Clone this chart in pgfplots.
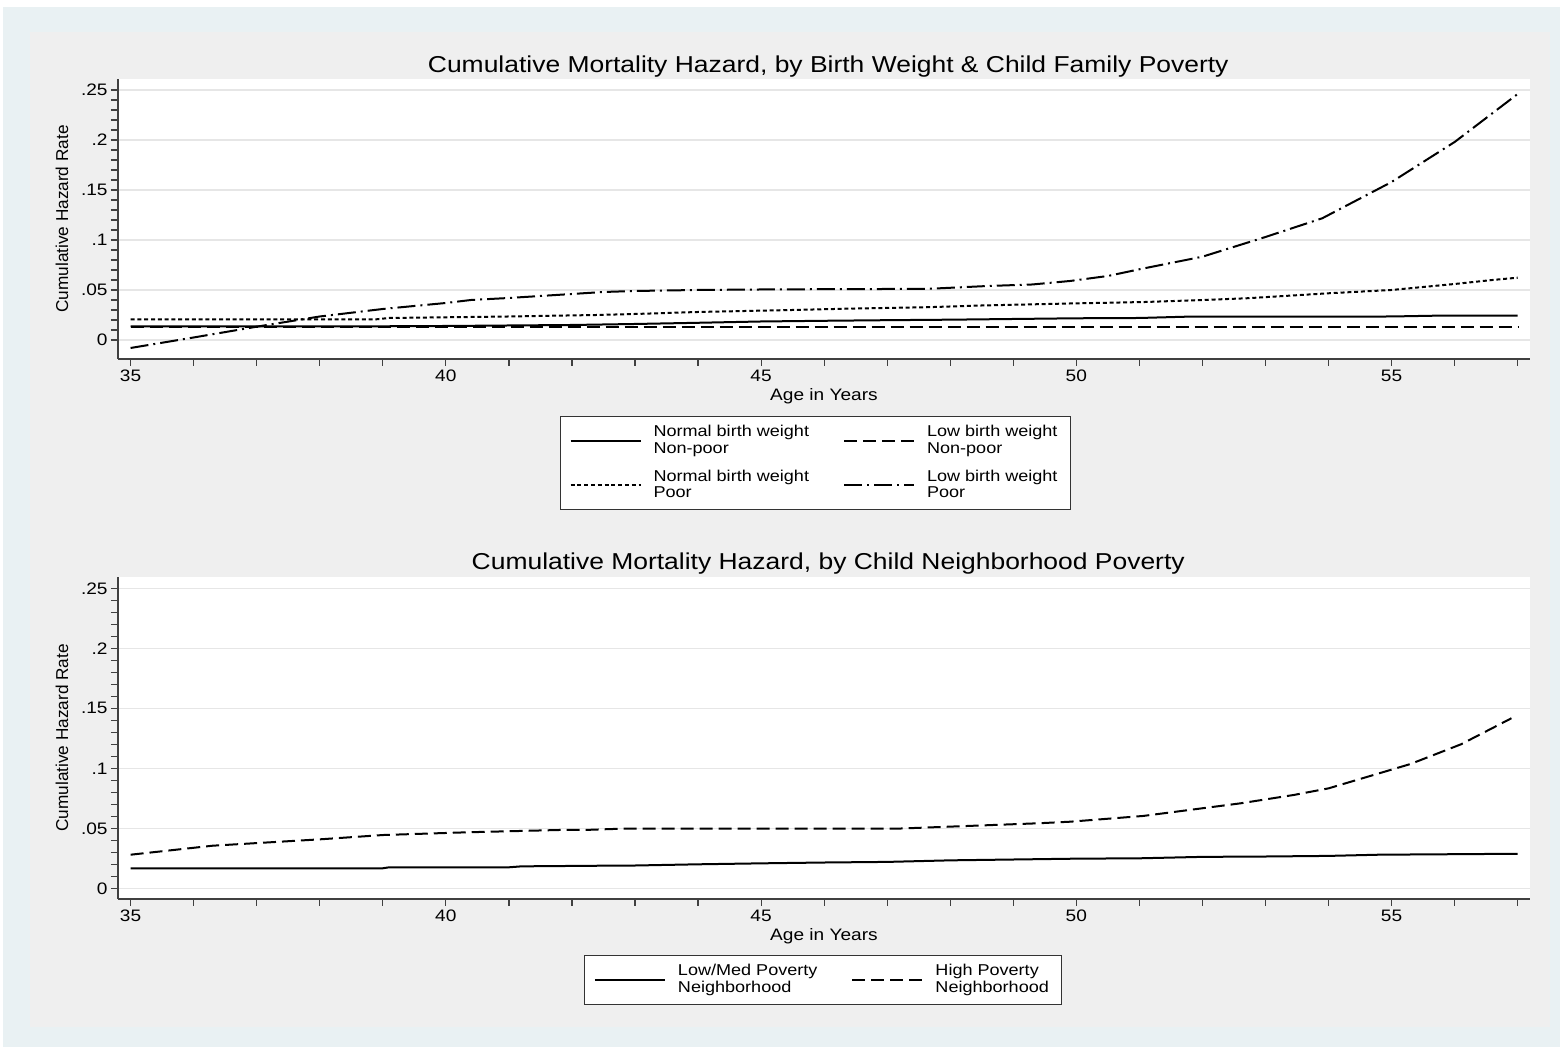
\documentclass[border=0pt]{standalone}
\usepackage{fontspec}
\setmainfont{Liberation Sans}[FakeStretch=1.15]
\newfontfamily\ylabfont{Liberation Sans}
\usepackage{pgfplots}
\pgfplotsset{compat=1.18}
\definecolor{bluishbg}{RGB}{233,241,243}
\definecolor{graybg}{RGB}{239,239,239}
\definecolor{gridc}{RGB}{230,230,230}
\newcommand\tickfont{\fontsize{8.3}{9.8}\selectfont}
\newcommand\titfont{\fontsize{11.5}{13}\selectfont}
\newcommand\legfont{\fontsize{7.85}{8.4}\selectfont}
\newcommand\ylfont{\ylabfont\fontsize{8.6}{10}\selectfont}

\pgfplotsset{
  stata/.style={
    scale only axis, width=706pt,
    xmin=34.8, xmax=57.195,
    axis x line*=bottom, axis y line*=left,
    axis line style={black!75, line width=0.6pt},
    every tick/.style={black!75, line width=0.6pt},
    tick align=outside,
    major tick length=3.5pt, minor tick length=3.5pt,
    xtick={35,40,45,50,55}, xticklabels={35,40,45,50,55},
    minor xtick={36,37,38,39,41,42,43,44,46,47,48,49,51,52,53,54,56,57},
    ytick={0,0.05,0.1,0.15,0.2,0.25}, yticklabels={0,.05,.1,.15,.2,.25},
    minor ytick={0.01,0.02,0.03,0.04,0.06,0.07,0.08,0.09,0.11,0.12,0.13,0.14,0.16,0.17,0.18,0.19,0.21,0.22,0.23,0.24},
    ymajorgrids, grid style={gridc, line width=0.8pt},
    axis background/.style={fill=white},
    /pgf/number format/assume math mode=true,
    ticklabel style={font=\tickfont},
    yticklabel style={inner sep=1.5pt},
    xticklabel style={inner sep=2pt},
    label style={font=\tickfont},
    ylabel style={font=\ylfont, at={(axis description cs:-0.0397,0.5)}, anchor=center},
    every axis title shift=0pt,
    title style={font=\titfont, at={(axis description cs:0.503,1.0225)}, anchor=base},
    legend columns=2,
    legend image code/.code={\draw[#1] (0pt,0pt) -- (35pt,0pt);},
    legend style={draw=black!80, line width=0.5pt, fill=white, font=\legfont,
      cells={align=left, anchor=west},
      /tikz/column 1/.style={column sep=4pt},
      /tikz/column 2/.style={column sep=15pt},
      /tikz/column 3/.style={column sep=4pt},
      inner xsep=4.5pt, inner ysep=2.5pt, row sep=2.5pt},
    every axis plot/.append style={line width=1pt, line join=round, black},
  },
  dashS/.style={dash pattern=on 6.5pt off 3pt},
  dotS/.style={dash pattern=on 2pt off 1.4pt},
  ddS/.style={dash pattern=on 9pt off 2.5pt on 1pt off 2.5pt},
}

\begin{document}
\begin{tikzpicture}
\useasboundingbox (0,0) rectangle (780pt,523.5pt);
\fill[white] (0,0) rectangle (780pt,523.5pt);
\fill[bluishbg] (1.5pt,0) rectangle (780pt,520pt);
\fill[graybg] (15pt,10pt) rectangle (775pt,507.5pt);

\begin{axis}[stata, at={(59pt,344pt)}, anchor=south west, height=140pt,
  ymin=-0.019, ymax=0.261,
  title={Cumulative Mortality Hazard, by Birth Weight \& Child Family Poverty},
  xlabel={Age in Years}, xlabel style={at={(axis description cs:0.5,-0.132)}, anchor=center},
  ylabel={Cumulative Hazard Rate},
  legend style={at={(0.494,-0.2036)}, anchor=north}]
\addplot[solid] coordinates {(35,0.0137) (36,0.0137) (37,0.0137) (38,0.0137) (39,0.0137) (40,0.0140) (41,0.0145) (42,0.0150) (43,0.0160) (44,0.0172) (45,0.0185) (46,0.0192) (47,0.0198) (48,0.0203) (49,0.0210) (50,0.0217) (51,0.0220) (51.75,0.0233) (53,0.0233) (54,0.0233) (55,0.0235) (55.7,0.0243) (57,0.0243)};
\addlegendentry{Normal birth weight\\Non-poor}
\addplot[dashS] coordinates {(35,0.0133) (40,0.0133) (45,0.0133) (50,0.0133) (55,0.0133) (57,0.0133)};
\addlegendentry{Low birth weight\\Non-poor}
\addplot[dotS] coordinates {(35,0.0207) (38.9,0.0207) (39.1,0.0220) (40.4,0.0230) (41,0.0235) (42.4,0.0250) (43,0.0260) (44,0.0280) (45.5,0.0300) (46.5,0.0315) (47.6,0.0327) (48.5,0.0345) (49.9,0.0365) (51.1,0.0380) (52,0.0400) (52.7,0.0417) (54,0.0467) (55,0.0500) (56,0.0560) (56.6,0.0600) (57,0.0623)};
\addlegendentry{Normal birth weight\\Poor}
\addplot[ddS] coordinates {(35,-0.008) (36,0.0025) (37,0.0133) (38,0.0235) (39,0.0310) (40,0.0370) (40.4,0.0400) (41,0.0420) (42,0.0460) (42.5,0.0480) (43,0.0490) (44,0.0500) (45,0.0505) (46,0.0508) (47,0.0510) (47.6,0.0510) (48.6,0.0540) (49.3,0.0555) (49.9,0.0590) (50.5,0.0640) (51,0.0707) (52,0.0833) (53,0.1030) (53.9,0.1217) (55,0.1580) (56,0.1980) (56.5,0.2220) (57,0.2460)};
\addlegendentry{Low birth weight\\Poor}
\end{axis}

\begin{axis}[stata, at={(59pt,74pt)}, anchor=south west, height=161.15pt,
  ymin=-0.0089, ymax=0.2597,
  title={Cumulative Mortality Hazard, by Child Neighborhood Poverty},
  xlabel={Age in Years}, xlabel style={at={(axis description cs:0.5,-0.1148)}, anchor=center},
  ylabel={Cumulative Hazard Rate},
  legend style={at={(0.4996,-0.1738)}, anchor=north}]
\addplot[solid] coordinates {(35,0.0167) (39,0.0167) (39.1,0.0175) (41,0.0175) (41.2,0.0183) (42.4,0.0188) (43,0.0190) (44,0.0200) (45,0.0208) (46,0.0215) (47,0.0220) (48,0.0233) (49,0.0240) (50,0.0247) (51,0.0250) (52,0.0262) (53,0.0265) (54,0.0270) (54.8,0.0280) (56.5,0.0286) (57,0.0286)};
\addlegendentry{Low/Med Poverty\\Neighborhood}
\addplot[dashS] coordinates {(35,0.0280) (36.3,0.0355) (38,0.0408) (39,0.0444) (40.35,0.0467) (41.8,0.0486) (42.3,0.0488) (42.8,0.0497) (47.15,0.0497) (48,0.0514) (49.4,0.0542) (49.9,0.0555) (51.06,0.0603) (52.6,0.0708) (53.45,0.0778) (54,0.0833) (55.3,0.1036) (56.1,0.1200) (56.9,0.1417)};
\addlegendentry{High Poverty\\Neighborhood}
\end{axis}
\end{tikzpicture}
\end{document}
